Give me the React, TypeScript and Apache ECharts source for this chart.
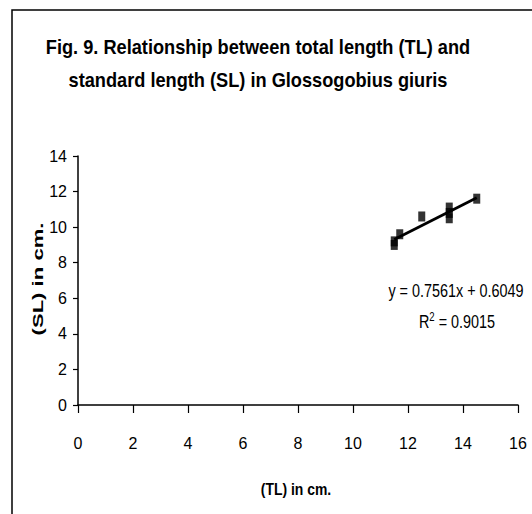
import React, { useEffect, useRef } from "react";
import * as echarts from "echarts";

const titleLines = [
  "Fig. 9. Relationship between total length (TL) and",
  "standard length (SL) in Glossogobius giuris",
];
const xAxisName = "(TL) in cm.";
const yAxisName = "(SL) in cm.";
const equationText = "y = 0.7561x + 0.6049";
const r2Value = "0.9015";

const tlValues = [11.5, 11.5, 11.7, 12.5, 13.5, 13.5, 13.5, 14.5];
const slValues = [9.0, 9.2, 9.6, 10.6, 10.5, 10.8, 11.1, 11.6];

const xMin = 0, xMax = 16, xStep = 2;
const yMin = 0, yMax = 14, yStep = 2;

const FONT = '"Liberation Sans", Arial, sans-serif';

function fitLine(xs: number[], ys: number[]) {
  const n = xs.length;
  const mx = xs.reduce((a, b) => a + b, 0) / n;
  const my = ys.reduce((a, b) => a + b, 0) / n;
  let sxy = 0, sxx = 0;
  for (let i = 0; i < n; i++) {
    sxy += (xs[i] - mx) * (ys[i] - my);
    sxx += (xs[i] - mx) * (xs[i] - mx);
  }
  const slope = sxy / sxx;
  const intercept = my - slope * mx;
  const lo = Math.min(...xs), hi = Math.max(...xs);
  return [
    [lo, slope * lo + intercept],
    [hi, slope * hi + intercept],
  ];
}

export default function App() {
  const ref = useRef<HTMLDivElement>(null);
  useEffect(() => {
    if (!ref.current) return;
    const chart = echarts.init(ref.current, undefined, { renderer: "svg" });
    const points = tlValues.map((x, i) => [x, slValues[i]]);
    const trend = fitLine(tlValues, slValues);
    const txt = (
      text: string,
      x: number,
      y: number,
      size: number,
      bold: boolean,
      scaleX: number,
      extra: any = {}
    ) => ({
      type: "text",
      x,
      y,
      scaleX,
      silent: true,
      ...extra,
      style: {
        text,
        font: `${bold ? "bold " : ""}${size}px ${FONT}`,
        fill: "#000",
        align: "center",
        verticalAlign: "middle",
        ...(extra.style || {}),
      },
    });
    chart.setOption({
      animation: false,
      backgroundColor: "#fff",
      graphic: [
        {
          type: "rect",
          shape: { x: 12, y: 10, width: 700, height: 700 },
          style: { fill: "none", stroke: "#000", lineWidth: 1.5 },
          silent: true,
        },
        txt(titleLines[0], 258, 47, 20, true, 0.91),
        txt(titleLines[1], 258, 80, 20, true, 0.91),
        txt(equationText, 456, 290, 18, false, 0.8),
        {
          type: "text",
          x: 457,
          y: 321,
          scaleX: 0.8,
          silent: true,
          style: {
            text: "R{sup|2} = " + r2Value,
            font: `18px ${FONT}`,
            fill: "#000",
            align: "center",
            verticalAlign: "middle",
            rich: {
              sup: {
                fontSize: 12,
                fontFamily: FONT,
                verticalAlign: "top",
                padding: [0, 0, 9, 0],
              },
            },
          },
        },
        txt(xAxisName, 296, 489, 17, true, 0.82),
        {
          type: "text",
          x: 38,
          y: 279,
          rotation: Math.PI / 2,
          scaleX: 1.3,
          scaleY: 0.9,
          silent: true,
          style: {
            text: yAxisName,
            font: `bold 17px ${FONT}`,
            fill: "#000",
            align: "center",
            verticalAlign: "middle",
          },
        },
      ],
      grid: { left: 78, top: 156, right: 14, bottom: 109, containLabel: false },
      xAxis: {
        type: "value",
        min: xMin,
        max: xMax,
        interval: xStep,
        axisLine: { show: true, onZero: false, lineStyle: { color: "#000", width: 1.5 } },
        axisTick: { show: true, length: 8, inside: false, lineStyle: { color: "#000", width: 1.2 } },
        axisLabel: { fontFamily: FONT, fontSize: 16, color: "#000", margin: 30 },
        splitLine: { show: false },
      },
      yAxis: {
        type: "value",
        min: yMin,
        max: yMax,
        interval: yStep,
        axisLine: { show: true, onZero: false, lineStyle: { color: "#000", width: 1.5 } },
        axisTick: { show: true, length: 5, inside: false, lineStyle: { color: "#000", width: 1.2 } },
        axisLabel: { fontFamily: FONT, fontSize: 16, color: "#000", margin: 11 },
        splitLine: { show: false },
      },
      series: [
        {
          type: "line",
          data: trend,
          showSymbol: false,
          symbol: "none",
          lineStyle: { color: "#000", width: 2.8 },
          z: 2,
        },
        {
          type: "scatter",
          data: points,
          symbol: "rect",
          symbolSize: [7, 10],
          itemStyle: { color: "#000" },
          z: 3,
        },
      ],
    });
    return () => chart.dispose();
  }, []);
  return <div ref={ref} style={{ width: 532, height: 514, position: "absolute", left: 0, top: 0 }} />;
}
